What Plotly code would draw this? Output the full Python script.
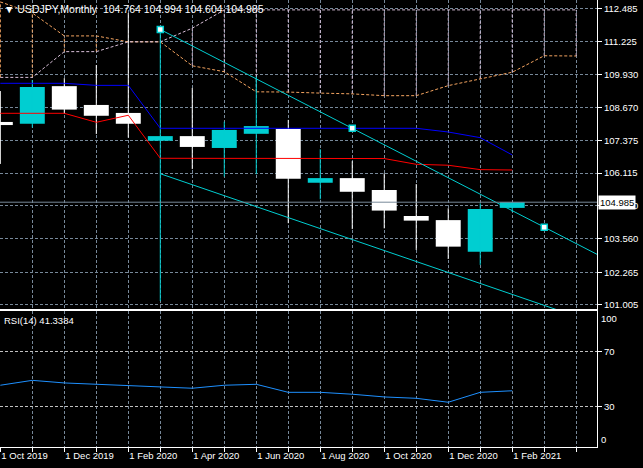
import plotly.graph_objects as go

FONT = "Liberation Sans"
GRID = "#778899"
CYAN = "#00CED1"

# ---------------- data ----------------
months = ["Oct 2019", "Nov 2019", "Dec 2019", "Jan 2020", "Feb 2020", "Mar 2020",
          "Apr 2020", "May 2020", "Jun 2020", "Jul 2020", "Aug 2020", "Sep 2020",
          "Oct 2020", "Nov 2020", "Dec 2020", "Jan 2021", "Feb 2021"]
bar_index = list(range(len(months)))

opens = [108.10, 108.03, 109.49, 108.76, 108.45, 107.37, 107.55, 107.09, 107.64,
         107.83, 105.74, 105.92, 105.46, 104.45, 104.29, 103.06, 104.764]
highs = [109.30, 109.73, 109.80, 110.31, 112.33, 111.69, 109.42, 108.11, 109.86,
         108.18, 107.04, 106.58, 106.11, 105.69, 104.75, 104.94, 104.994]
lows = [106.47, 107.88, 108.42, 107.63, 107.49, 101.15, 106.27, 105.98, 106.07,
        104.17, 105.10, 103.94, 103.97, 103.13, 102.78, 102.55, 104.604]
closes = [107.98, 109.46, 108.58, 108.34, 108.03, 107.55, 107.13, 107.79, 107.94,
          105.90, 105.92, 105.39, 104.66, 104.27, 103.26, 104.72, 104.985]

# Ichimoku
tenkan = [108.436, 108.436, 108.436, 108.087, 108.36, 106.69, 106.69, 106.69, 106.69,
          106.69, 106.69, 106.69, 106.68, 106.456, 106.42, 106.25, 106.235]
kijun = [109.60, 109.60, 109.60, 109.52, 109.52, 107.854, 107.854, 107.854, 107.854,
         107.854, 107.854, 107.854, 107.854, 107.854, 107.71, 107.49, 106.82]
cloud_index = list(range(19))
span_a = [112.76, 112.33, 111.44, 111.44, 111.21, 111.21, 110.28, 110.05, 109.27, 109.26,
          109.22, 109.19, 109.12, 109.12, 109.51, 109.76, 110.03, 110.67, 110.66]
span_b = [109.83, 109.83, 110.83, 110.83, 111.21, 111.21, 111.74, 112.45, 112.45, 112.45,
          112.45, 112.45, 112.45, 112.45, 112.45, 112.45, 112.45, 112.45, 112.45]

# RSI(14)
rsi = [45.4, 49.0, 47.1, 46.1, 45.4, 44.6, 43.2, 45.4, 46.1, 40.2, 40.2, 38.8,
       36.8, 35.8, 32.9, 40.2, 41.3384]

# trend lines (anchor bars / prices)
upper_anchor_idx = [5, 11, 17]
upper_anchor_price = [111.69, 107.854, 104.017]
lower_anchor_idx = [5, 17]
lower_anchor_price = [106.09, 100.98]

price_ticks = [101.005, 102.265, 103.560, 104.840, 106.115, 107.375, 108.670,
               109.930, 111.225, 112.485]
grid_months = list(range(19))
date_labels = {0: "1 Oct 2019", 2: "1 Dec 2019", 4: "1 Feb 2020", 6: "1 Apr 2020",
               8: "1 Jun 2020", 10: "1 Aug 2020", 12: "1 Oct 2020", 14: "1 Dec 2020",
               16: "1 Feb 2021"}
rsi_levels = [30, 70]

symbol = "USDJPY,Monthly"
rsi_name = "RSI(14)"

X_RANGE = [-0.01, 18.65]
Y_RANGE = [100.839, 112.834]

fig = go.Figure()

# ---- Ichimoku cloud hatch ----
sx, sy, tx, ty = [], [], [], []
for i, a, b in zip(cloud_index, span_a, span_b):
    if a >= b:
        sx += [i, i, None]; sy += [b, a, None]
    else:
        tx += [i, i, None]; ty += [a, b, None]
fig.add_trace(go.Scatter(x=sx, y=sy, mode="lines", line=dict(color="#F4A460", width=1, dash="3px,2px"),
                         hoverinfo="skip"))
fig.add_trace(go.Scatter(x=tx, y=ty, mode="lines", line=dict(color="#D8BFD8", width=1, dash="3px,2px"),
                         hoverinfo="skip"))
fig.add_trace(go.Scatter(x=cloud_index, y=span_a, mode="lines",
                         line=dict(color="#F4A460", width=1, dash="3px,2px")))
fig.add_trace(go.Scatter(x=cloud_index, y=span_b, mode="lines",
                         line=dict(color="#D8BFD8", width=1, dash="3px,2px")))

# ---- candles ----
bull = [c > o for o, c in zip(opens, closes)]
for up, col in [(True, CYAN), (False, "white")]:
    wx, wy = [], []
    for i, l, h, b in zip(bar_index, lows, highs, bull):
        if b == up:
            wx += [i, i, None]; wy += [l, h, None]
    fig.add_trace(go.Scatter(x=wx, y=wy, mode="lines", line=dict(color=col, width=1)))

fig.add_trace(go.Bar(x=bar_index, base=[min(o, c) for o, c in zip(opens, closes)],
                     y=[abs(c - o) for o, c in zip(opens, closes)],
                     width=0.78, marker=dict(color=[CYAN if b else "white" for b in bull],
                                             line=dict(width=0))))

# ---- Tenkan / Kijun ----
fig.add_trace(go.Scatter(x=bar_index, y=kijun, mode="lines", line=dict(color="#0000FF", width=1)))
fig.add_trace(go.Scatter(x=bar_index, y=tenkan, mode="lines", line=dict(color="#FF0000", width=1)))

# ---- trend lines ----
def extend(idx, price, x_end):
    slope = (price[-1] - price[0]) / (idx[-1] - idx[0])
    return [idx[0], x_end], [price[0], price[0] + slope * (x_end - idx[0])]

ux, uy = extend(upper_anchor_idx, upper_anchor_price, X_RANGE[1])
lx, ly = extend(lower_anchor_idx, lower_anchor_price, X_RANGE[1])
fig.add_trace(go.Scatter(x=ux, y=uy, mode="lines", line=dict(color=CYAN, width=1)))
fig.add_trace(go.Scatter(x=lx, y=ly, mode="lines", line=dict(color=CYAN, width=1)))
fig.add_trace(go.Scatter(x=upper_anchor_idx, y=upper_anchor_price, mode="markers",
                         marker=dict(symbol="square", size=6, color="white",
                                     line=dict(color=CYAN, width=1.5))))

# ---- RSI ----
fig.add_trace(go.Scatter(x=bar_index, y=rsi, mode="lines", line=dict(color="#1E90FF", width=1),
                         xaxis="x2", yaxis="y2"))

# ---- bid line ----
fig.add_shape(type="line", xref="x domain", yref="y", x0=0, x1=1, y0=closes[-1], y1=closes[-1],
              line=dict(color=GRID, width=1))

axis_font = dict(family=FONT, size=9.5, color="white")
fig.update_layout(
    width=643, height=468, margin=dict(l=0, r=46, t=0, b=21),
    paper_bgcolor="black", plot_bgcolor="black", showlegend=False, barmode="overlay",
    xaxis=dict(domain=[0, 1], range=X_RANGE, anchor="y", tickvals=grid_months, showticklabels=False,
               ticks="", showgrid=True, gridcolor=GRID, griddash="3px,2px", gridwidth=1,
               showline=True, linecolor="white", linewidth=1, zeroline=False),
    yaxis=dict(domain=[0.3087, 1], range=Y_RANGE, anchor="x", side="right",
               tickvals=price_ticks, ticktext=[f"{v:.3f}" for v in price_ticks],
               ticks="outside", ticklen=4, tickcolor="white", tickfont=axis_font,
               showgrid=True, gridcolor=GRID, griddash="3px,2px", gridwidth=1,
               showline=True, linecolor="white", linewidth=1, zeroline=False),
    xaxis2=dict(domain=[0, 1], range=X_RANGE, anchor="y2", tickvals=grid_months,
                ticktext=[date_labels.get(i, "") for i in grid_months],
                ticklabelposition="outside right", ticks="outside", ticklen=4, tickcolor="white",
                tickfont=axis_font, showgrid=True, gridcolor=GRID, griddash="3px,2px", gridwidth=1,
                showline=True, mirror=True, linecolor="white", linewidth=1, zeroline=False),
    yaxis2=dict(domain=[0, 0.3043], range=[0, 100], anchor="x2", side="right",
                tickvals=rsi_levels, ticks="outside", ticklen=4, tickcolor="white", tickfont=axis_font,
                showgrid=True, gridcolor="#C0C0C0", griddash="3px,2px", gridwidth=1,
                showline=True, linecolor="white", linewidth=1, zeroline=False),
)

# ---- texts ----
title = "\u25BC " + symbol + "\u00a0\u00a0" + " ".join(
    f"{v:.3f}" for v in [opens[-1], highs[-1], lows[-1], closes[-1]])
fig.add_annotation(text=title, xref="paper", yref="paper", x=0, y=1, xanchor="left", yanchor="top",
                   showarrow=False, font=dict(family=FONT, size=10.5, color="white"), xshift=2, yshift=-1)
fig.add_annotation(text=f"{rsi_name} {rsi[-1]:.4f}", xref="paper", yref="y2 domain", x=0, y=1,
                   xanchor="left", yanchor="top", showarrow=False,
                   font=dict(family=FONT, size=9.5, color="white"), xshift=2, yshift=-2)
fig.add_annotation(text="100", xref="paper", yref="y2", x=1, y=100, xanchor="left", yanchor="top",
                   showarrow=False, font=axis_font, xshift=2)
fig.add_annotation(text="0", xref="paper", yref="y2", x=1, y=0, xanchor="left", yanchor="bottom",
                   showarrow=False, font=axis_font, xshift=2)
fig.add_annotation(text=f"{closes[-1]:.3f}", xref="paper", yref="y", x=1, y=closes[-1],
                   xanchor="left", yanchor="middle", showarrow=False, bgcolor="white",
                   font=dict(family=FONT, size=9.5, color="black"), xshift=1, borderpad=1)

fig.write_html("out.html", config={"displayModeBar": False},
               post_script="document.body.style.margin='0';document.body.style.background='black';")
